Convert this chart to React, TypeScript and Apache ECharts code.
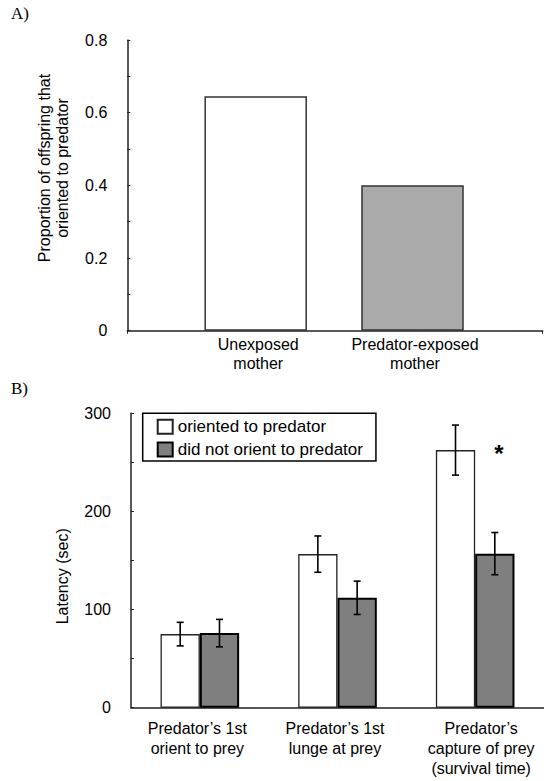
import React, { useEffect, useRef } from "react";
import * as echarts from "echarts";

// ---------- Data ----------
const categoriesA = ["Unexposed\nmother", "Predator-exposed\nmother"];
const proportionsA = [0.645, 0.4];
const colorsA = ["#ffffff", "#aaaaaa"];
const yTicksA = { min: 0, max: 0.8, interval: 0.2 };

const categoriesB = [
  "Predator\u2019s 1st\norient to prey",
  "Predator\u2019s 1st\nlunge at prey",
  "Predator\u2019s\ncapture of prey\n(survival time)",
];
const seriesNamesB = ["oriented to predator", "did not orient to predator"];
const orientedMeans = [75, 156.5, 262.5];
const orientedSE = [12, 18.5, 25.5];
const notOrientedMeans = [76, 112, 157];
const notOrientedSE = [14, 17, 21.5];
const significantIndex = 2;
const yTicksB = { min: 0, max: 300, interval: 100 };

const FONT = "'Liberation Sans', Arial, sans-serif";
const SERIF = "'Liberation Serif', 'Times New Roman', serif";

export default function App() {
  const ref = useRef<HTMLDivElement>(null);

  useEffect(() => {
    if (!ref.current) return;
    const chart = echarts.init(ref.current, null, { renderer: "svg" });

    const barWB = 39.3;
    const axisLine = { show: true, lineStyle: { color: "#222", width: 1.5 } };
    const yAxisCommon = {
      type: "value",
      axisLine,
      splitLine: { show: false },
      axisTick: { show: true, inside: true, length: 3, lineStyle: { color: "#222", width: 1 } },
      minorTick: { show: true, splitNumber: 2, length: 3, lineStyle: { color: "#222", width: 1 } },
      axisLabel: { fontSize: 16, fontFamily: FONT, color: "#000", margin: 20 },
    };

    const errRender = (offset: number) => (params: any, api: any) => {
      const cat = api.value(0);
      const lo = api.coord([cat, api.value(1)]);
      const hi = api.coord([cat, api.value(2)]);
      const x = lo[0] + offset;
      const cap = 3.5;
      const style = { stroke: "#000", lineWidth: 1.6 };
      return {
        type: "group",
        children: [
          { type: "line", shape: { x1: x, y1: lo[1], x2: x, y2: hi[1] }, style },
          { type: "line", shape: { x1: x - cap, y1: lo[1], x2: x + cap, y2: lo[1] }, style },
          { type: "line", shape: { x1: x - cap, y1: hi[1], x2: x + cap, y2: hi[1] }, style },
        ],
      };
    };

    const labelShiftB = [
      { padding: [0, 5, 0, 0] },
      { padding: [0, 5, 0, 0] },
      { padding: [0, 0, 0, 12] },
    ];

    chart.setOption({
      animation: false,
      backgroundColor: "#ffffff",
      textStyle: { fontFamily: FONT },
      grid: [
        { left: 127.3, top: 40, width: 415.4, height: 290.7 },
        { left: 177.3, top: 40, width: 313.6, height: 290.7 },
        { left: 131, top: 413.3, width: 420, height: 294.4 },
      ],
      xAxis: [
        {
          gridIndex: 0,
          type: "value",
          min: 0,
          max: 1,
          interval: 1,
          axisLine,
          axisTick: { show: true, length: 3, lineStyle: { color: "#222" } },
          axisLabel: { show: false },
          splitLine: { show: false },
        },
        {
          gridIndex: 1,
          type: "category",
          data: categoriesA.map((c) => ({ value: c, textStyle: { padding: [0, 0, 0, 5] } })),
          axisLine: { show: false },
          axisTick: { show: false },
          axisLabel: { interval: 0, fontSize: 16, fontFamily: FONT, color: "#000", lineHeight: 19, margin: 4 },
        },
        {
          gridIndex: 2,
          type: "category",
          data: categoriesB.map((c, i) => ({ value: c, textStyle: labelShiftB[i] })),
          axisLine,
          axisTick: { show: false },
          axisLabel: { interval: 0, fontSize: 16, fontFamily: FONT, color: "#000", lineHeight: 20, margin: 11 },
        },
      ],
      yAxis: [
        { ...yAxisCommon, gridIndex: 0, ...yTicksA },
        { type: "value", gridIndex: 1, ...yTicksA, show: false, splitLine: { show: false } },
        { ...yAxisCommon, gridIndex: 2, ...yTicksB },
      ],
      legend: {
        data: seriesNamesB,
        orient: "vertical",
        left: 142.7,
        top: 413.3,
        padding: [5, 13, 3, 14],
        itemGap: 5.7,
        itemWidth: 15,
        itemHeight: 14,
        itemTextGap: 13.3,
        icon: "rect",
        borderColor: "#000",
        borderWidth: 1.5,
        textStyle: { fontSize: 17, fontFamily: FONT, color: "#000", lineHeight: 14 },
      },
      series: [
        {
          type: "bar",
          xAxisIndex: 1,
          yAxisIndex: 1,
          barWidth: 102.5,
          data: proportionsA.map((v, i) => ({ value: v, itemStyle: { color: colorsA[i] } })),
          itemStyle: { borderColor: "#333", borderWidth: 1.5 },
        },
        {
          type: "bar",
          name: seriesNamesB[0],
          xAxisIndex: 2,
          yAxisIndex: 2,
          barWidth: barWB,
          barGap: "0%",
          itemStyle: { color: "#ffffff", borderColor: "#222", borderWidth: 1.3 },
          data: orientedMeans.map((v, i) =>
            i === significantIndex
              ? {
                  value: v,
                  label: {
                    show: true,
                    formatter: "*",
                    position: [63, 3],
                    align: "center",
                    verticalAlign: "middle",
                    fontSize: 24,
                    fontWeight: "bold",
                    fontFamily: FONT,
                    color: "#000",
                  },
                }
              : v
          ),
        },
        {
          type: "bar",
          name: seriesNamesB[1],
          xAxisIndex: 2,
          yAxisIndex: 2,
          barWidth: barWB,
          barGap: "0%",
          itemStyle: { color: "#7f7f7f", borderColor: "#000", borderWidth: 2 },
          data: notOrientedMeans,
        },
        {
          type: "custom",
          xAxisIndex: 2,
          yAxisIndex: 2,
          z: 5,
          renderItem: errRender(-barWB / 2),
          data: orientedMeans.map((m, i) => [i, m - orientedSE[i], m + orientedSE[i]]),
        },
        {
          type: "custom",
          xAxisIndex: 2,
          yAxisIndex: 2,
          z: 5,
          renderItem: errRender(barWB / 2),
          data: notOrientedMeans.map((m, i) => [i, m - notOrientedSE[i], m + notOrientedSE[i]]),
        },
      ],
      graphic: [
        {
          type: "text",
          x: 11,
          y: 4.5,
          style: { text: "A)", font: `17px ${SERIF}`, fill: "#000", textAlign: "left", textVerticalAlign: "top" },
        },
        {
          type: "text",
          x: 11,
          y: 380,
          style: { text: "B)", font: `17px ${SERIF}`, fill: "#000", textAlign: "left", textVerticalAlign: "top" },
        },
        {
          type: "text",
          x: 53.5,
          y: 168,
          rotation: Math.PI / 2,
          style: {
            text: "Proportion of offspring that\noriented to predator",
            font: `16px ${FONT}`,
            lineHeight: 18,
            fill: "#000",
            textAlign: "center",
            textVerticalAlign: "middle",
          },
        },
        {
          type: "text",
          x: 62.7,
          y: 576.3,
          rotation: Math.PI / 2,
          style: {
            text: "Latency (sec)",
            font: `16px ${FONT}`,
            fill: "#000",
            textAlign: "center",
            textVerticalAlign: "middle",
          },
        },
      ],
    });

    return () => chart.dispose();
  }, []);

  return (
    <div
      ref={ref}
      style={{ position: "fixed", left: 0, top: 0, width: 544, height: 781, background: "#fff" }}
    />
  );
}
